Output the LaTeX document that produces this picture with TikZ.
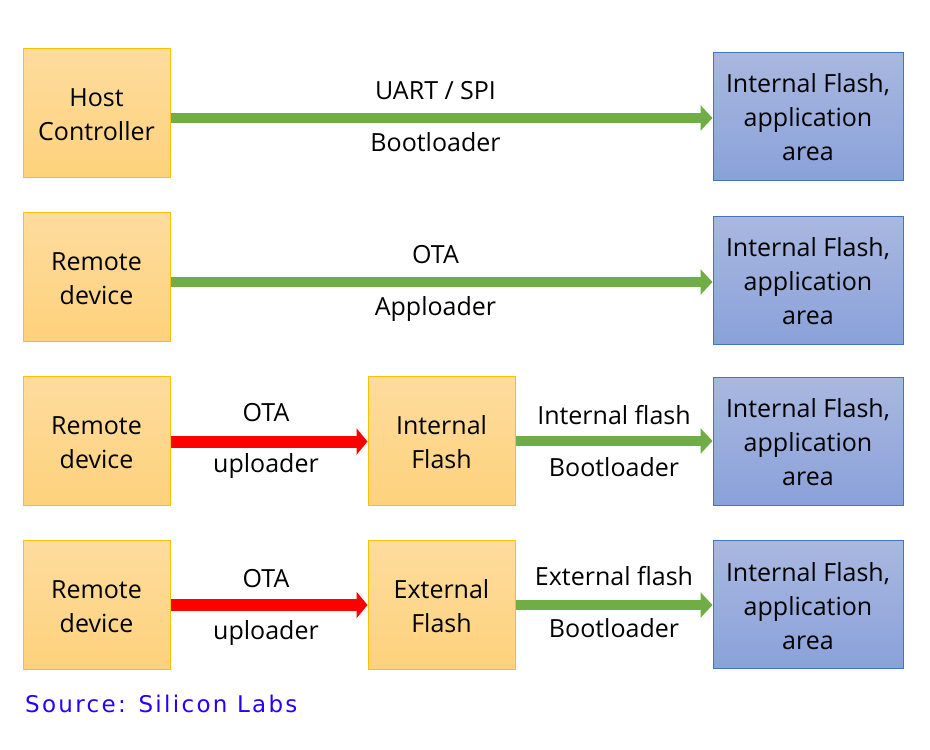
\documentclass[tikz,border=0pt]{standalone}
\usepackage{fontspec}
\setmainfont{Open Sans}
\newfontfamily\srcfont[LetterSpace=10]{DejaVu Sans}
\usetikzlibrary{arrows.meta}
\definecolor{otop}{HTML}{FEDC9E}
\definecolor{obot}{HTML}{FED27C}
\definecolor{oborder}{HTML}{FFC000}
\definecolor{btop}{HTML}{A9B8E0}
\definecolor{bbot}{HTML}{8AA1D9}
\definecolor{bborder}{HTML}{4472C4}
\definecolor{agreen}{HTML}{70AD47}
\definecolor{ared}{HTML}{FF0000}
\definecolor{srcblue}{RGB}{40,0,255}
\newcommand\firstline{\rule{0pt}{22pt}}
\tikzset{
  obox/.style={draw=oborder, line width=1pt, top color=otop, bottom color=obot,
    minimum width=147pt, minimum height=129pt, inner sep=0pt, align=center,
    font=\fontsize{25}{34}\selectfont},
  bbox/.style={draw=bborder, line width=1pt, top color=btop, bottom color=bbot,
    minimum width=190pt, minimum height=128pt, inner sep=0pt, align=center,
    font=\fontsize{25}{34}\selectfont},
  garrow/.style={draw=agreen, line width=10pt, -{Triangle[width=25pt,length=12pt]}},
  rarrow/.style={draw=ared, line width=12pt, -{Triangle[width=26pt,length=11pt]}},
  lbl/.style={font=\fontsize{25}{34}\selectfont, inner sep=0pt, anchor=base},
}
\begin{document}
\begin{tikzpicture}[x=1pt,y=-1pt]
\useasboundingbox (0,0) rectangle (930,750);
% row 1
\node[obox] (h1) at (96.5,112.5) {\firstline Host\\Controller};
\node[bbox] (t1) at (808,116) {\firstline Internal Flash,\\application\\area};
\draw[garrow] (h1.east |- 0,118) -- (t1.west |- 0,118)
  node[lbl, midway, xshift=-6pt, yshift=18.5pt] {UART / SPI}
  node[lbl, midway, xshift=-6pt, yshift=-33pt] {Bootloader};
% row 2
\node[obox] (h2) at (96.5,276.5) {\firstline Remote\\device};
\node[bbox] (t2) at (808,280) {\firstline Internal Flash,\\application\\area};
\draw[garrow] (h2.east |- 0,282) -- (t2.west |- 0,282)
  node[lbl, midway, xshift=-6pt, yshift=18.5pt] {OTA}
  node[lbl, midway, xshift=-6pt, yshift=-33pt] {Apploader};
% row 3
\node[obox] (h3) at (96.5,440.5) {\firstline Remote\\device};
\node[obox] (m3) at (441.5,440.5) {\firstline Internal\\Flash};
\node[bbox] (t3) at (808,441) {\firstline Internal Flash,\\application\\area};
\draw[rarrow] (h3.east |- 0,441.5) -- (m3.west |- 0,441.5)
  node[lbl, midway, xshift=-3pt, yshift=20.5pt] {OTA}
  node[lbl, midway, xshift=-3pt, yshift=-31pt] {uploader};
\draw[garrow] (m3.east |- 0,441) -- (t3.west |- 0,441)
  node[lbl, midway, yshift=17pt] {Internal flash}
  node[lbl, midway, yshift=-35pt] {Bootloader};
% row 4
\node[obox] (h4) at (96.5,604.5) {\firstline Remote\\device};
\node[obox] (m4) at (441.5,604.5) {\firstline External\\Flash};
\node[bbox] (t4) at (808,604.5) {\firstline Internal Flash,\\application\\area};
\draw[rarrow] (h4.east |- 0,605) -- (m4.west |- 0,605)
  node[lbl, midway, xshift=-3pt, yshift=17.5pt] {OTA}
  node[lbl, midway, xshift=-3pt, yshift=-34pt] {uploader};
\draw[garrow] (m4.east |- 0,605) -- (t4.west |- 0,605)
  node[lbl, midway, yshift=19.5pt] {External flash}
  node[lbl, midway, yshift=-32.5pt] {Bootloader};
% source
\node[anchor=base west, inner sep=0pt, text=srcblue, font=\srcfont\fontsize{23}{26}\selectfont] (src) at (25,712) {Source: Silicon Labs};
\end{tikzpicture}
\end{document}
